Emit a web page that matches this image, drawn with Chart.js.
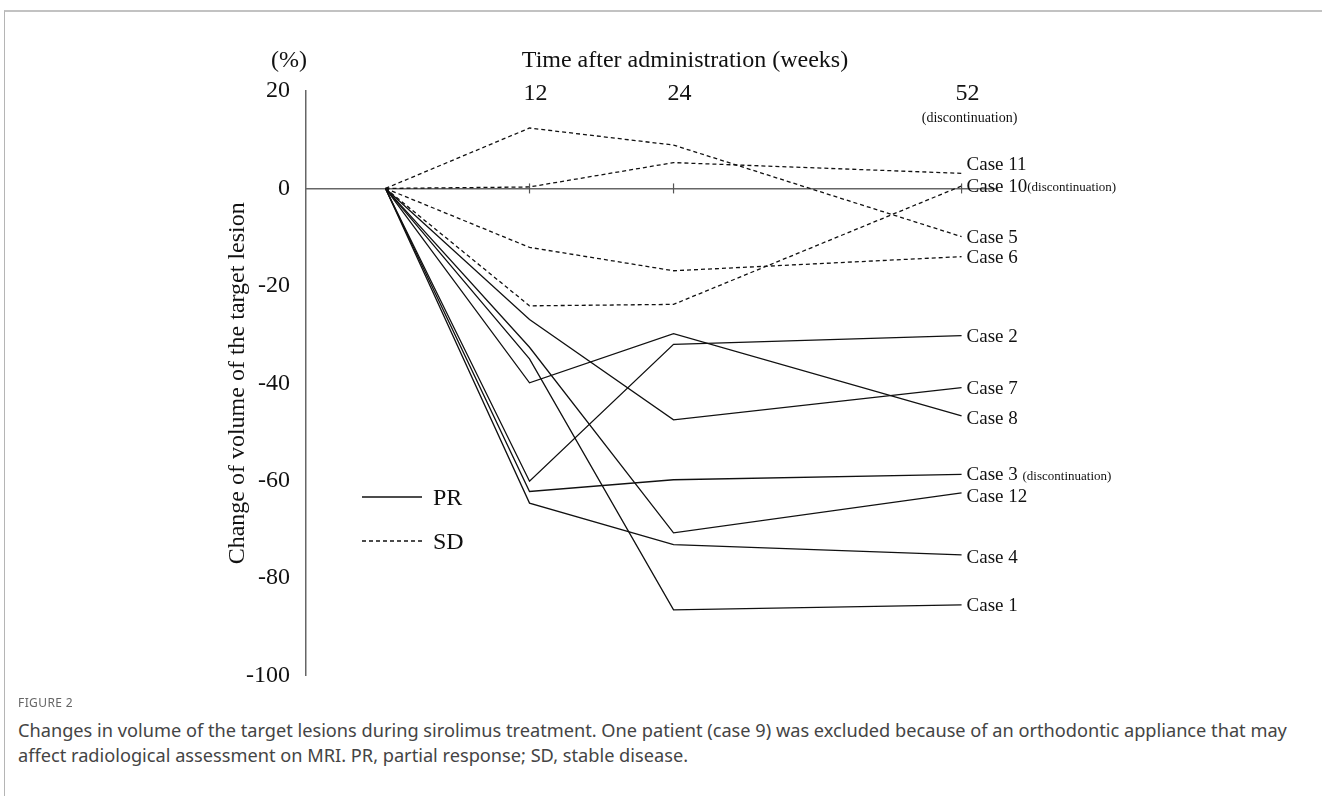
<!DOCTYPE html>
<html>
<head>
<meta charset="utf-8">
<script src="https://cdn.jsdelivr.net/npm/chart.js@4.4.1/dist/chart.umd.min.js"></script>
<style>
  html, body { margin: 0; padding: 0; background: #fff; }
  body { width: 1322px; height: 796px; position: relative; overflow: hidden; }
  .frame { position: absolute; left: 4px; top: 10px; right: 0; bottom: 0; border-top: 2px solid #c2c2c2; border-left: 1px solid #b5b5b5; }
  #chart-wrap { position: absolute; left: 0; top: 0; width: 1322px; height: 706px; }
  .fig-label { position: absolute; left: 18px; top: 694px; font: 12px "Noto Sans", sans-serif; color: #666; letter-spacing: 0.4px; }
  .caption { position: absolute; left: 18px; top: 718px; width: 1300px; font: 18.2px/25px "Noto Sans", sans-serif; color: #444; }
</style>
</head>
<body>
<div class="frame"></div>
<div id="chart-wrap"><canvas id="volume-chart" width="1322" height="706"></canvas></div>
<div class="fig-label">FIGURE 2</div>
<div class="caption">Changes in volume of the target lesions during sirolimus treatment. One patient (case 9) was excluded because of an orthodontic appliance that may<br>affect radiological assessment on MRI. PR, partial response; SD, stable disease.</div>
<script>
// visits (weeks after administration)
const weeks = [0, 12, 24, 52];
const weekLabels = ['12', '24', '52'];
const yTicks = [20, 0, -20, -40, -60, -80, -100];

// % change of target lesion volume at each visit
const case1 = [0, -35.0, -86.5, -85.5];
const case2 = [0, -60.1, -32.0, -30.2];
const case3 = [0, -62.2, -59.8, -58.7];
const case4 = [0, -64.6, -73.1, -75.2];
const case5 = [0, 12.4, 8.9, -9.9];
const case6 = [0, -12.1, -16.9, -14.0];
const case7 = [0, -26.9, -47.5, -40.9];
const case8 = [0, -39.9, -29.8, -46.7];
const case10 = [0, -24.1, -23.8, 0.5];
const case11 = [0, 0.3, 5.3, 3.1];
const case12 = [0, -32.6, -70.7, -62.5];

const caseNames = ['Case 1', 'Case 2', 'Case 3', 'Case 4', 'Case 5', 'Case 6', 'Case 7', 'Case 8', 'Case 10', 'Case 11', 'Case 12'];
const caseValues = [case1, case2, case3, case4, case5, case6, case7, case8, case10, case11, case12];
const caseResponse = ['PR', 'PR', 'PR', 'PR', 'SD', 'SD', 'PR', 'PR', 'SD', 'SD', 'PR'];
const discontinued = ['Case 3', 'Case 10'];

// layout: the 52-week column sits two steps right of 24 in the original figure
const weekColumn = { 0: 0, 12: 1, 24: 2, 52: 4 };
const labelNudge = { 'Case 11': -9, 'Case 12': 3, 'Case 4': 2, 'Case 8': 2 };

const SERIF = '"Liberation Serif", "Times New Roman", serif';
const INK = '#111';

const datasets = caseNames.map((name, i) => ({
  label: name,
  data: weeks.map((w, j) => ({ x: weekColumn[w], y: caseValues[i][j] })),
  borderColor: INK,
  borderWidth: 1.3,
  borderDash: caseResponse[i] === 'SD' ? [4, 3] : [],
  pointRadius: 0,
  tension: 0,
  fill: false,
}));

const annotate = {
  id: 'annotate',
  afterDatasetsDraw(chart) {
    const { ctx, chartArea } = chart;
    const xs = chart.scales.x;
    const ys = chart.scales.y;
    const y0 = ys.getPixelForValue(0);
    ctx.save();

    // tick marks on the zero line + week labels on top
    ctx.strokeStyle = '#555';
    ctx.lineWidth = 1.2;
    ctx.fillStyle = INK;
    ctx.textAlign = 'center';
    ctx.textBaseline = 'middle';
    weeks.slice(1).forEach((w, i) => {
      const px = xs.getPixelForValue(weekColumn[w]);
      ctx.beginPath();
      ctx.moveTo(px, y0 - 5);
      ctx.lineTo(px, y0 + 5);
      ctx.stroke();
      ctx.font = '24px ' + SERIF;
      ctx.fillText(weekLabels[i], px + 6, chartArea.top + 3);
    });
    const px52 = xs.getPixelForValue(weekColumn[52]);
    ctx.font = '14px ' + SERIF;
    ctx.fillText('(discontinuation)', px52 + 8, chartArea.top + 27);

    // axis captions
    ctx.font = '24px ' + SERIF;
    ctx.fillText('Time after administration (weeks)', 685, chartArea.top - 30);
    ctx.fillText('(%)', 289, chartArea.top - 30);

    // case labels at the end of each line
    ctx.textAlign = 'left';
    chart.data.datasets.forEach((ds) => {
      const last = ds.data[ds.data.length - 1];
      const lx = xs.getPixelForValue(last.x) + 5;
      const ly = ys.getPixelForValue(last.y) + 1 + (labelNudge[ds.label] || 0);
      ctx.font = '19px ' + SERIF;
      ctx.fillText(ds.label, lx, ly);
      if (discontinued.includes(ds.label)) {
        const w = ctx.measureText(ds.label + (ds.label === 'Case 3' ? ' ' : '')).width;
        ctx.font = '13px ' + SERIF;
        ctx.fillText('(discontinuation)', lx + w, ly + 1);
      }
    });

    // legend
    const legend = [['PR', [], 497], ['SD', [4, 3], 541]];
    legend.forEach(([txt, dash, ly]) => {
      ctx.setLineDash(dash);
      ctx.strokeStyle = INK;
      ctx.lineWidth = 1.3;
      ctx.beginPath();
      ctx.moveTo(362, ly);
      ctx.lineTo(422, ly);
      ctx.stroke();
      ctx.setLineDash([]);
      ctx.font = '24px ' + SERIF;
      ctx.fillText(txt, 433, ly + 2);
    });
    ctx.restore();
  }
};

new Chart(document.getElementById('volume-chart'), {
  type: 'line',
  data: { datasets },
  options: {
    responsive: false,
    animation: false,
    layout: { padding: { left: 223, right: 325, top: 91, bottom: 14 } },
    plugins: { legend: { display: false }, tooltip: { enabled: false } },
    scales: {
      x: {
        type: 'linear',
        position: { y: 0 },
        min: -0.552,
        max: 4.246,
        afterFit: (scale) => { scale.height = 0; },
        ticks: { display: false },
        grid: { drawOnChartArea: false, drawTicks: false },
        border: { display: true, color: '#666', width: 1.5 },
      },
      y: {
        type: 'linear',
        min: -100,
        max: 20,
        afterBuildTicks: (scale) => { scale.ticks = yTicks.map(v => ({ value: v })); },
        afterFit: (scale) => { scale.width = 83; },
        ticks: { color: INK, padding: 16, font: { family: SERIF, size: 24 } },
        grid: { display: false, drawTicks: false },
        border: { display: true, color: '#666', width: 1.5 },
        title: {
          display: true,
          text: 'Change of volume of the target lesion',
          color: INK,
          padding: 0,
          font: { family: SERIF, size: 24 },
        },
      },
    },
  },
  plugins: [annotate],
});
</script>
</body>
</html>
